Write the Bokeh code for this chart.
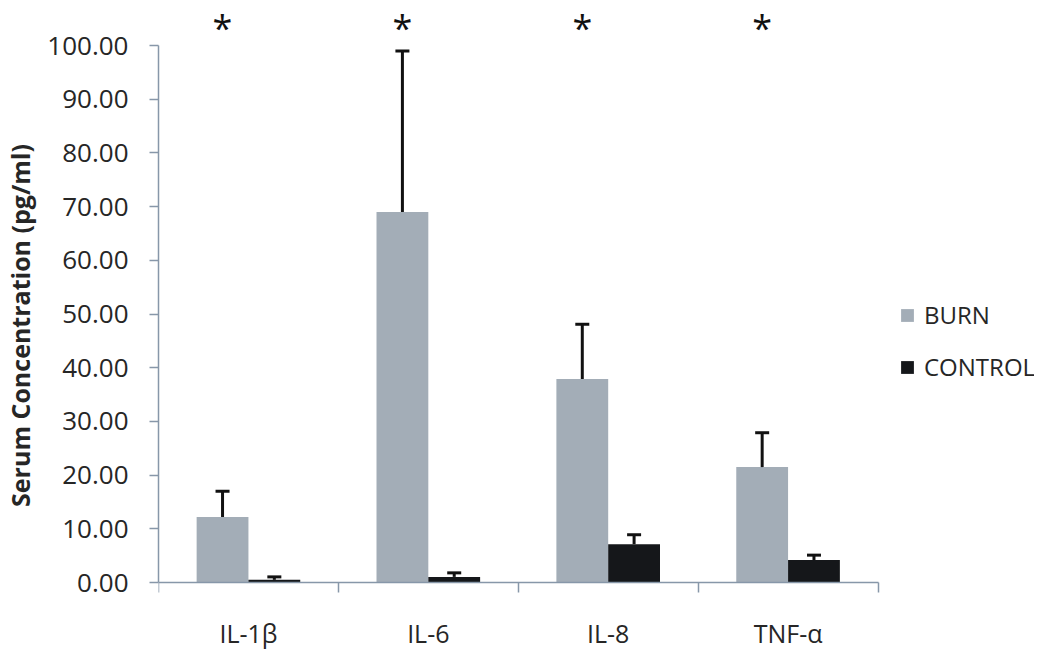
import numpy as np
from bokeh.plotting import figure
from bokeh.models import (ColumnDataSource, Range1d, FixedTicker, CustomJSTickFormatter,
                          NumeralTickFormatter, Whisker, TeeHead, Legend, LegendItem)
from bokeh.core.properties import value
from bokeh.embed import file_html
from bokeh.resources import INLINE

# ---- data ----
categories = ["IL-1β", "IL-6", "IL-8", "TNF-α"]
burn_mean = [12.2, 69.0, 37.9, 21.5]
burn_err = [4.8, 30.0, 10.2, 6.4]
control_mean = [0.5, 1.05, 7.15, 4.2]
control_err = [0.55, 0.75, 1.75, 0.9]
significance = ["*", "*", "*", "*"]
y_ticks = [0, 10, 20, 30, 40, 50, 60, 70, 80, 90, 100]
series_labels = ["BURN", "CONTROL"]

# ---- style ----
BURN_COLOR = "#a3adb7"
CONTROL_COLOR = "#15171a"
AXIS_COLOR = "#8797a9"
TEXT_COLOR = "#262626"
FONT = "Open Sans"
BAR_W = 0.288
OFFSET = 0.144
STAR_Y = 103.4

n = len(categories)
centers = np.arange(n) + 0.5
bounds = list(np.arange(n + 1).astype(float))

burn_x = centers - OFFSET
ctrl_x = centers + OFFSET

p = figure(width=1034, height=650, output_backend="svg", toolbar_location=None,
           x_range=Range1d(0, 4.87), y_range=Range1d(-12.66, 108.4),
           min_border_left=145, min_border_right=0, min_border_top=0, min_border_bottom=0)
p.background_fill_color = "white"
p.border_fill_color = "white"
p.outline_line_color = None
p.xgrid.visible = False
p.ygrid.visible = False

burn_src = ColumnDataSource(dict(x=burn_x, top=burn_mean, hi=np.array(burn_mean) + np.array(burn_err)))
ctrl_src = ColumnDataSource(dict(x=ctrl_x, top=control_mean, hi=np.array(control_mean) + np.array(control_err)))

r_burn = p.vbar(x="x", top="top", width=BAR_W, source=burn_src, fill_color=BURN_COLOR, line_color=None)
r_ctrl = p.vbar(x="x", top="top", width=BAR_W, source=ctrl_src, fill_color=CONTROL_COLOR, line_color=None)

for src in (burn_src, ctrl_src):
    w = Whisker(base="x", lower="top", upper="hi", source=src, line_color="#111111", line_width=3,
                upper_head=TeeHead(size=14, line_color="#111111", line_width=3), lower_head=None,
                level="overlay")
    p.add_layout(w)

star_src = ColumnDataSource(dict(x=burn_x, y=[STAR_Y] * n, t=significance))
p.text(x="x", y="y", text="t", source=star_src, text_font=value(FONT), text_font_size="36px",
       text_align="center", text_baseline="middle", text_color="#111111")

# y axis
ya = p.yaxis[0]
ya.ticker = FixedTicker(ticks=y_ticks)
ya.formatter = NumeralTickFormatter(format="0.00")
ya.bounds = (0, 100)
ya.axis_line_color = AXIS_COLOR
ya.axis_line_width = 1.5
ya.major_tick_line_color = AXIS_COLOR
ya.major_tick_line_width = 1.5
ya.major_tick_out = 9
ya.major_tick_in = 0
ya.minor_tick_line_color = None
ya.major_label_text_font = FONT
ya.major_label_text_font_size = "26px"
ya.major_label_text_color = TEXT_COLOR
ya.major_label_standoff = 21
ya.axis_label = "Serum Concentration (pg/ml)"
ya.axis_label_text_font = FONT
ya.axis_label_text_font_style = "bold"
ya.axis_label_text_font_size = "25px"
ya.axis_label_text_color = TEXT_COLOR
ya.axis_label_standoff = 7

# x axis (drawn at y = 0)
xa = p.xaxis[0]
xa.fixed_location = 0
xa.bounds = (0, n)
xa.ticker = FixedTicker(ticks=list(centers), minor_ticks=bounds)
xa.formatter = CustomJSTickFormatter(args=dict(names=categories), code="return names[Math.floor(tick)];")
xa.axis_line_color = AXIS_COLOR
xa.axis_line_width = 1.5
xa.major_tick_line_color = None
xa.major_tick_out = 0
xa.major_tick_in = 0
xa.minor_tick_line_color = AXIS_COLOR
xa.minor_tick_line_width = 1.5
xa.minor_tick_out = 10
xa.minor_tick_in = 0
xa.major_label_text_font = FONT
xa.major_label_text_font_size = "25px"
xa.major_label_text_color = TEXT_COLOR
xa.major_label_standoff = 23

legend = Legend(items=[LegendItem(label=series_labels[0], renderers=[r_burn]),
                       LegendItem(label=series_labels[1], renderers=[r_ctrl])],
                location=(741, 267), orientation="vertical",
                padding=0, margin=0, spacing=19, glyph_width=16, glyph_height=16,
                label_standoff=9, label_text_font=FONT, label_text_font_size="24px",
                label_text_color=TEXT_COLOR, border_line_color=None, background_fill_alpha=0)
p.add_layout(legend)

open("out.html", "w").write(file_html(p, INLINE))
